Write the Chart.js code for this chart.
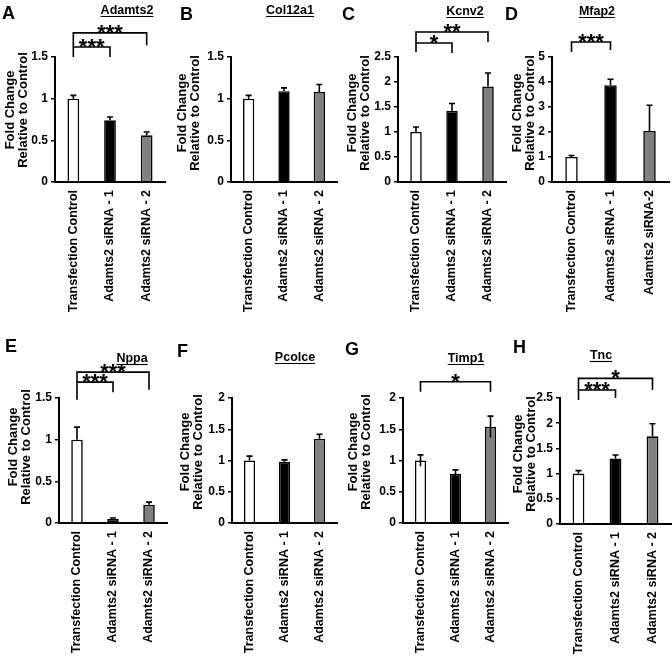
<!DOCTYPE html>
<html><head><meta charset="utf-8">
<script src="https://cdn.jsdelivr.net/npm/chart.js@4"></script>
<style>
html,body{margin:0;padding:0;background:#fff;}
body{width:672px;height:656px;position:relative;overflow:hidden;}
canvas{position:absolute;}
</style></head><body>
<script>
// ---------- data ----------
const categories  = ['Transfection Control', 'Adamts2 siRNA - 1', 'Adamts2 siRNA - 2'];
const categoriesD = ['Transfection Control', 'Adamts2 siRNA - 1', 'Adamts2 siRNA-2'];
const panelLetters = ['A','B','C','D','E','F','G','H'];
const geneNames = ['Adamts2','Col12a1','Kcnv2','Mfap2','Nppa','Pcolce','Timp1','Tnc'];
const yMaxes = [1.5, 1.5, 2.5, 5, 1.5, 2, 2, 2.5];
const ySteps = [0.5, 0.5, 0.5, 1, 0.5, 0.5, 0.5, 0.5];

const adamts2Mean = [1.00, 0.74, 0.56];  const adamts2Err = [0.04, 0.04, 0.04];
const col12a1Mean = [1.00, 1.09, 1.08];  const col12a1Err = [0.04, 0.04, 0.09];
const kcnv2Mean   = [1.00, 1.42, 1.91];  const kcnv2Err   = [0.10, 0.15, 0.27];
const mfap2Mean   = [1.00, 3.87, 2.04];  const mfap2Err   = [0.06, 0.24, 1.03];
const nppaMean    = [1.00, 0.05, 0.22];  const nppaErr    = [0.15, 0.01, 0.03];
const pcolceMean  = [1.00, 0.98, 1.35];  const pcolceErr  = [0.07, 0.03, 0.07];
const timp1Mean   = [1.00, 0.79, 1.54];  const timp1Err   = [0.09, 0.06, 0.17];
const tncMean     = [1.00, 1.30, 1.74];  const tncErr     = [0.06, 0.07, 0.25];

// significance brackets: [fromIdx, toIdx, lineValue, leftFootValue, rightFootValue, label]
const adamts2Sig = [[0,2,1.79,1.62,1.64,'***'],[0,1,1.62,1.50,1.50,'***']];
const col12a1Sig = [];
const kcnv2Sig   = [[0,2,3.00,2.78,2.80,'**'],[0,1,2.78,2.60,2.58,'*']];
const mfap2Sig   = [[0,1,5.60,5.20,5.28,'***']];
const nppaSig    = [[0,2,1.81,1.69,1.60,'***'],[0,1,1.69,1.48,1.57,'***']];
const pcolceSig  = [];
const timp1Sig   = [[0,2,2.26,2.10,2.10,'*']];
const tncSig     = [[0,2,2.89,2.66,2.66,'*'],[0,1,2.66,2.46,2.50,'***']];

const means = [adamts2Mean, col12a1Mean, kcnv2Mean, mfap2Mean, nppaMean, pcolceMean, timp1Mean, tncMean];
const errs  = [adamts2Err, col12a1Err, kcnv2Err, mfap2Err, nppaErr, pcolceErr, timp1Err, tncErr];
const sigs  = [adamts2Sig, col12a1Sig, kcnv2Sig, mfap2Sig, nppaSig, pcolceSig, timp1Sig, tncSig];
const symmetricErr = [false,false,false,false,false,false,true,false];

// ---------- style / layout ----------
const barColors = ['#ffffff', '#000000', '#808080'];
const FONT = "'Liberation Sans', Arial, sans-serif";
const ROW_TOP = [0, 330], ROW_H = [328, 326];
const Y_AXIS_W = 62;
const layout = [
  {axL:55,  axR:165, axT:57,  axB:182, row:0, letter:[2,19],    title:[127,14],  ytitle:[10,110]},
  {axL:231, axR:337, axT:57,  axB:182, row:0, letter:[180,20],  title:[290,14],  ytitle:[182,113]},
  {axL:398, axR:506, axT:57,  axB:182, row:0, letter:[342,20],  title:[465,15],  ytitle:[352,113]},
  {axL:552, axR:669, axT:57,  axB:182, row:0, letter:[505,20],  title:[597,15],  ytitle:[517,113]},
  {axL:59,  axR:167, axT:398, axB:523, row:1, letter:[5,352],   title:[132,362], ytitle:[13,447]},
  {axL:232, axR:337, axT:398, axB:523, row:1, letter:[177,357], title:[295,361], ytitle:[185,452]},
  {axL:403, axR:508, axT:398, axB:523, row:1, letter:[345,355], title:[466,362], ytitle:[353,452]},
  {axL:560, axR:671, axT:398, axB:524, row:1, letter:[513,353], title:[601,359], ytitle:[518,454]}
];

function makeDecor(p, cLeft, cTop) {
  const L = layout[p];
  return {
    id: 'decor' + p,
    afterDatasetsDraw(chart) {
      const ctx = chart.ctx, ys = chart.scales.y;
      const meta = chart.getDatasetMeta(0);
      ctx.save();
      ctx.strokeStyle = '#000'; ctx.lineWidth = 1.6;
      meta.data.forEach((bar, i) => {
        const v = means[p][i], e = errs[p][i];
        const yTop = ys.getPixelForValue(v + e);
        const yBot = ys.getPixelForValue(symmetricErr[p] ? v - e : v);
        ctx.beginPath();
        ctx.moveTo(bar.x, yBot); ctx.lineTo(bar.x, yTop);
        ctx.moveTo(bar.x - 3, yTop); ctx.lineTo(bar.x + 3, yTop);
        ctx.stroke();
      });
      ctx.restore();
    },
    afterDraw(chart) {
      const ctx = chart.ctx, xs = chart.scales.x, ys = chart.scales.y;
      ctx.save();
      ctx.fillStyle = '#000'; ctx.strokeStyle = '#000';
      // panel letter
      ctx.font = 'bold 18px ' + FONT;
      ctx.textAlign = 'left'; ctx.textBaseline = 'alphabetic';
      ctx.fillText(panelLetters[p], L.letter[0] - cLeft, L.letter[1] - cTop);
      // gene title underlined
      ctx.font = 'bold 12.5px ' + FONT;
      ctx.textAlign = 'center';
      const tx = L.title[0] - cLeft, ty = L.title[1] - cTop;
      ctx.fillText(geneNames[p], tx, ty);
      const w = ctx.measureText(geneNames[p]).width;
      ctx.lineWidth = 1.2;
      ctx.beginPath(); ctx.moveTo(tx - w/2, ty + 2.5); ctx.lineTo(tx + w/2, ty + 2.5); ctx.stroke();
      // y axis title (two lines)
      ctx.save();
      ctx.font = 'bold 13px ' + FONT;
      ctx.translate(L.ytitle[0] - cLeft, L.ytitle[1] - cTop);
      ctx.rotate(-Math.PI / 2);
      ctx.textAlign = 'center'; ctx.textBaseline = 'middle';
      ctx.fillText('Fold Change', 0, 0);
      ctx.fillText('Relative to Control', 0, 13);
      ctx.restore();
      // significance brackets
      ctx.lineWidth = 1.6;
      sigs[p].forEach(s => {
        const xa = xs.getPixelForValue(s[0]), xb = xs.getPixelForValue(s[1]);
        const y = ys.getPixelForValue(s[2]);
        const ya = ys.getPixelForValue(s[3]), yb = ys.getPixelForValue(s[4]);
        ctx.beginPath();
        ctx.moveTo(xa, ya); ctx.lineTo(xa, y); ctx.lineTo(xb, y); ctx.lineTo(xb, yb);
        ctx.stroke();
        ctx.font = 'bold 22px ' + FONT;
        ctx.textAlign = 'center'; ctx.textBaseline = 'alphabetic';
        ctx.fillText(s[5], (xa + xb) / 2, y + 7);
      });
      ctx.restore();
    }
  };
}

function makePanel(p) {
  const L = layout[p];
  const cLeft = L.axL - Y_AXIS_W, cTop = ROW_TOP[L.row];
  const cW = (L.axR - L.axL) + Y_AXIS_W + 10, cH = ROW_H[L.row];
  const canvas = document.createElement('canvas');
  canvas.width = cW; canvas.height = cH;
  canvas.style.left = cLeft + 'px'; canvas.style.top = cTop + 'px';
  canvas.style.width = cW + 'px'; canvas.style.height = cH + 'px';
  document.body.appendChild(canvas);
  const xH = cH - (L.axB - cTop);
  new Chart(canvas, {
    type: 'bar',
    data: {
      labels: p === 3 ? categoriesD : categories,
      datasets: [{
        data: means[p],
        backgroundColor: barColors,
        borderColor: '#000',
        borderWidth: 1.6,
        categoryPercentage: 1,
        barPercentage: 0.32
      }]
    },
    options: {
      responsive: false,
      animation: false,
      devicePixelRatio: 1,
      events: [],
      layout: { padding: { left: 0, right: 10, top: L.axT - cTop, bottom: 0 } },
      plugins: { legend: { display: false }, tooltip: { enabled: false }, title: { display: false } },
      scales: {
        x: {
          grid: { display: false, drawTicks: false, tickLength: 0 },
          border: { display: true, color: '#000', width: 2 },
          ticks: {
            color: '#000', font: { family: FONT, size: 12.5, weight: 'bold' },
            maxRotation: 90, minRotation: 90, autoSkip: false, padding: 8
          },
          afterFit: (s) => { s.height = xH; }
        },
        y: {
          min: 0, max: yMaxes[p],
          grid: { display: true, drawOnChartArea: false, drawTicks: true, tickLength: 4, color: '#000', lineWidth: 1.5 },
          border: { display: true, color: '#000', width: 2 },
          ticks: {
            stepSize: ySteps[p], color: '#000',
            font: { family: FONT, size: 12, weight: 'bold' }, padding: 3,
            callback: (v) => String(Math.round(v * 100) / 100)
          },
          afterFit: (s) => { s.width = Y_AXIS_W; }
        }
      }
    },
    plugins: [makeDecor(p, cLeft, cTop)]
  });
}

for (let p = 0; p < 8; p++) makePanel(p);
</script>
</body></html>
